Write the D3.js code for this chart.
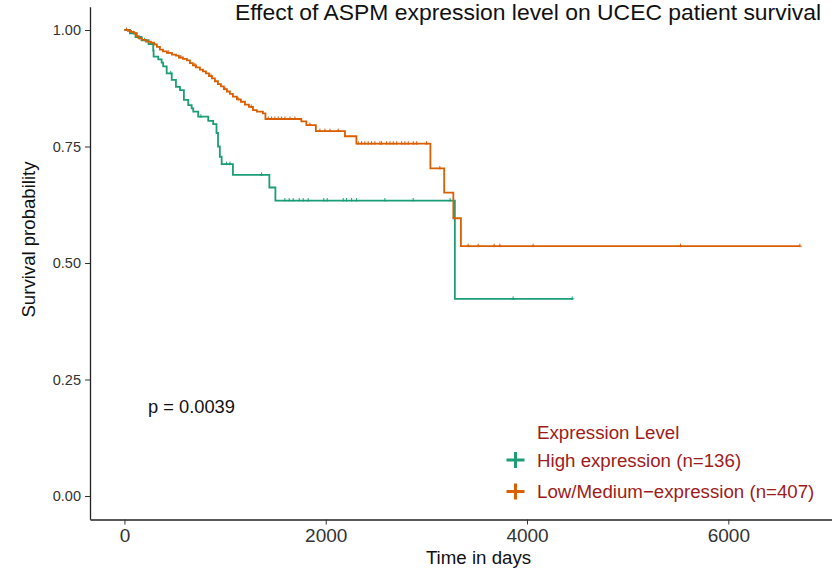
<!DOCTYPE html>
<html>
<head>
<meta charset="utf-8">
<script src="https://cdn.jsdelivr.net/npm/d3@7"></script>
<style>
  body { margin: 0; background: #fff; }
  text { font-family: "Liberation Sans", Arial, sans-serif; }
</style>
</head>
<body>
<div id="chart"></div>
<script>
// Kaplan-Meier steps: time in days, survival after the drop
var highTimes = [0, 55, 110, 170, 240, 286, 290, 336, 370, 385, 420, 470, 512, 552, 591, 634, 668, 684, 733, 833, 882, 915, 930, 948, 966, 1078, 1440, 1500, 3283];
var highSurv  = [1, 0.993, 0.985, 0.978, 0.970, 0.956, 0.943, 0.937, 0.930, 0.922, 0.907, 0.893, 0.878, 0.871, 0.850, 0.839, 0.832, 0.825, 0.814, 0.805, 0.798, 0.779, 0.750, 0.728, 0.712, 0.689, 0.662, 0.634, 0.423];
var highEnd = 4449;
var highCensor = [90, 200, 460, 760, 1015, 1048, 1363, 1594, 1637, 1677, 1737, 1776, 1826, 1981, 2015, 2174, 2207, 2257, 2307, 2588, 2869, 3236, 3862, 4449];

var lowTimes = [0, 35, 65, 94, 124, 144, 174, 214, 263, 293, 323, 353, 383, 422, 472, 512, 541, 581, 621, 651, 680, 710, 750, 780, 810, 840, 869, 899, 929, 959, 988, 1018, 1048, 1078, 1118, 1157, 1197, 1237, 1277, 1316, 1376, 1401, 1758, 1808, 1902, 2191, 2305, 3040, 3177, 3268, 3343];
var lowSurv  = [1, 0.998, 0.996, 0.993, 0.987, 0.982, 0.979, 0.975, 0.973, 0.969, 0.964, 0.958, 0.954, 0.951, 0.947, 0.945, 0.941, 0.938, 0.935, 0.929, 0.924, 0.920, 0.915, 0.911, 0.907, 0.901, 0.896, 0.890, 0.884, 0.879, 0.873, 0.868, 0.863, 0.857, 0.851, 0.846, 0.840, 0.835, 0.828, 0.825, 0.821, 0.809, 0.804, 0.796, 0.783, 0.772, 0.756, 0.703, 0.651, 0.596, 0.536];
var lowEnd = 6711;
var lowCensor = [20, 150, 300, 440, 560, 700, 860, 1000, 1130, 1260, 1429, 1462, 1495, 1528, 1562, 1595, 1645, 1694, 1843, 1942, 1992, 2042, 2124, 2323, 2356, 2389, 2422, 2455, 2489, 2538, 2555, 2605, 2638, 2671, 2705, 2754, 2787, 2820, 2870, 2904, 3002, 3134, 3415, 3515, 3674, 3730, 4061, 5525, 6711];

var xTicks = [0, 2000, 4000, 6000];
var yTicks = [0, 0.25, 0.5, 0.75, 1];

var groups = [
  { name: 'High expression (n=136)', times: highTimes, surv: highSurv, end: highEnd, censor: highCensor, color: '#1B9E77' },
  { name: 'Low/Medium\u2212expression (n=407)', times: lowTimes, surv: lowSurv, end: lowEnd, censor: lowCensor, color: '#D95F02' }
];

var width = 832, height = 571;
var svg = d3.select('#chart').append('svg')
  .attr('width', width)
  .attr('height', height);

var x = d3.scaleLinear().domain([-342, 7050]).range([90, 834]);
var y = d3.scaleLinear().domain([-0.05, 1.05]).range([519.3, 6.7]);

// survival at time t (step function lookup)
function survAt(g, t) {
  var i = d3.bisectRight(g.times, t) - 1;
  return g.surv[Math.max(i, 0)];
}

// axes
var xAxis = svg.append('g')
  .attr('transform', 'translate(0,519.5)')
  .call(d3.axisBottom(x).tickValues(xTicks).tickFormat(d3.format('d')).tickSize(5).tickPadding(4).tickSizeOuter(0));
var yAxis = svg.append('g')
  .attr('transform', 'translate(90,0)')
  .call(d3.axisLeft(y).tickValues(yTicks).tickFormat(d3.format('.2f')).tickSize(5).tickPadding(4).tickSizeOuter(0));

[xAxis, yAxis].forEach(function (a) {
  a.select('.domain').attr('stroke', '#222').attr('stroke-width', 1.3);
  a.selectAll('.tick line').attr('stroke', '#333');
  a.selectAll('.tick text').attr('fill', '#333').style('font-size', '14.5px');
});
xAxis.selectAll('.tick text').style('font-size', '19px');

// curves
var line = d3.line().curve(d3.curveStepAfter)
  .x(function (d) { return x(d[0]); })
  .y(function (d) { return y(d[1]); });

groups.forEach(function (g) {
  var pts = g.times.map(function (t, i) { return [t, g.surv[i]]; });
  pts.push([g.end, g.surv[g.surv.length - 1]]);
  svg.append('path')
    .datum(pts)
    .attr('fill', 'none')
    .attr('stroke', g.color)
    .attr('stroke-width', 1.8)
    .attr('d', line);

  // censor marks
  svg.append('g').selectAll('path')
    .data(g.censor)
    .enter()
    .append('path')
    .attr('d', function (t) {
      var cx = x(t), cy = y(survAt(g, t));
      return 'M' + (cx - 2) + ',' + cy + 'H' + (cx + 2) + 'M' + cx + ',' + (cy - 2.5) + 'V' + (cy + 1);
    })
    .attr('stroke', g.color)
    .attr('stroke-width', 1);
});

// title and labels
svg.append('text')
  .attr('x', 821)
  .attr('y', 20)
  .attr('text-anchor', 'end')
  .style('font-size', '22.9px')
  .attr('fill', '#111')
  .text('Effect of ASPM expression level on UCEC patient survival');

svg.append('text')
  .attr('transform', 'translate(35,239.5)rotate(-90)')
  .attr('text-anchor', 'middle')
  .style('font-size', '18.6px')
  .attr('fill', '#111')
  .text('Survival probability');

svg.append('text')
  .attr('x', 478.5)
  .attr('y', 564)
  .attr('text-anchor', 'middle')
  .style('font-size', '18.7px')
  .attr('fill', '#111')
  .text('Time in days');

svg.append('text')
  .attr('x', 148)
  .attr('y', 412.5)
  .style('font-size', '18.3px')
  .attr('fill', '#111')
  .text('p = 0.0039');

// legend
var legend = svg.append('g');
legend.append('text')
  .attr('x', 537)
  .attr('y', 438.5)
  .style('font-size', '18.7px')
  .attr('fill', '#9E1B1B')
  .text('Expression Level');

var items = legend.selectAll('.item')
  .data(groups)
  .enter()
  .append('g')
  .attr('class', 'item')
  .attr('transform', function (d, i) { return 'translate(0,' + (460 + i * 31.5) + ')'; });

items.append('path')
  .attr('d', 'M506.5,0H524.5M515.5,-8V8')
  .attr('stroke', function (d) { return d.color; })
  .attr('stroke-width', 3);

items.append('text')
  .attr('x', 537)
  .attr('y', 6.5)
  .style('font-size', '18.7px')
  .attr('fill', '#9E1B1B')
  .text(function (d) { return d.name; });
</script>
</body>
</html>
